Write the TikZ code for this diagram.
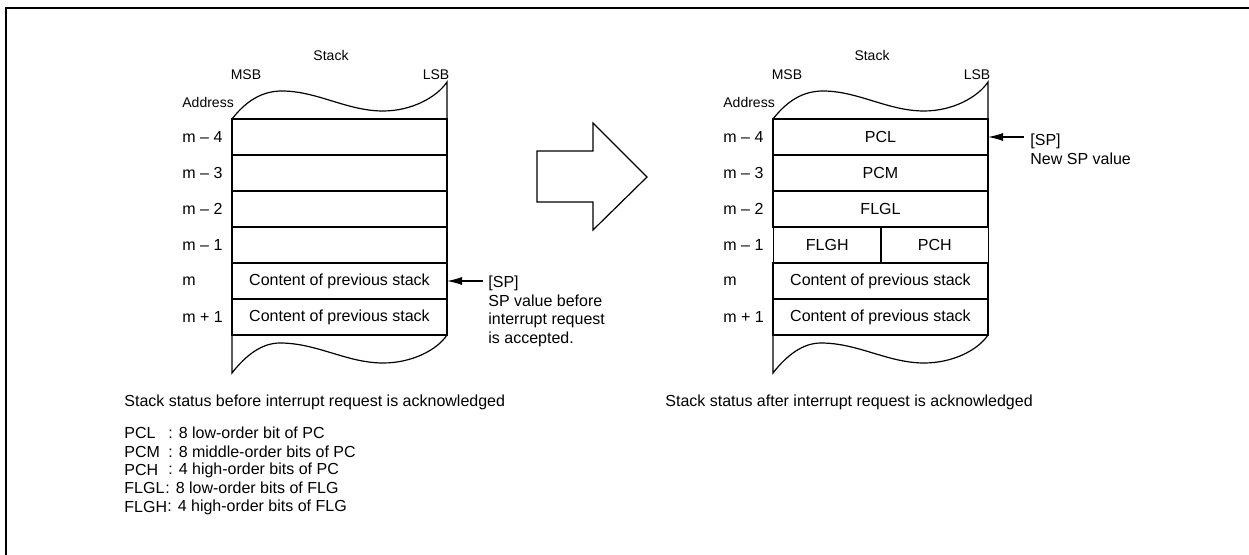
\documentclass[tikz,border=0pt]{standalone}
\usepackage{fontspec}
\setmainfont{Liberation Sans}
\usetikzlibrary{arrows.meta}
\begin{document}
\begin{tikzpicture}[
        x=0.5pt, y=-0.5pt,
        every node/.style={font=\fontsize{8}{9.25}\selectfont, inner sep=0pt},
        small/.style={font=\fontsize{7}{8.4}\selectfont},
        cell/.style={draw, line width=0.6pt, outer sep=0pt, minimum width=107.5pt, minimum height=18pt},
        halfcell/.style={cell, minimum width=53.75pt},
        wave/.style={line width=0.6pt},
        sparrow/.style={line width=0.6pt, -{Latex[length=7.5pt,width=4pt]}}
    ]

    \useasboundingbox (0,0) rectangle (1249,555);
    \draw[line width=1pt] (6,555) -- (6,8) -- (1249,8);

    \node[cell] (am4) at (339.5,137) {};
    \node[cell] (am3) at (339.5,173) {};
    \node[cell] (am2) at (339.5,209) {};
    \node[cell] (am1) at (339.5,245) {};
    \node[cell] (am) at (339.5,281) {Content of previous stack};
    \node[cell] (amp1) at (339.5,317) {Content of previous stack};

    \node[cell] (bm4) at (880.5,137) {PCL};
    \node[cell] (bm3) at (880.5,173) {PCM};
    \node[cell] (bm2) at (880.5,209) {FLGL};
    \node[halfcell] (bm1a) at (827.25,245) {FLGH};
    \node[halfcell] (bm1b) at (934.75,245) {PCH};
    \node[cell] (bm) at (880.5,281) {Content of previous stack};
    \node[cell] (bmp1) at (880.5,317) {Content of previous stack};

    \foreach \s/\e/\dx [count=\i] in {am4/amp1/0, bm4/bmp1/541} {
        \draw[wave, shift={(\s.north west)}] (0,0) .. controls (14,-18) and (30,-28) .. (50,-28)
            .. controls (85,-28) and (115,-8) .. (151,-8)
            .. controls (180,-8) and (205,-22) .. (215,-37) -- (215,0);
        \draw[wave, shift={(\e.south west)}] (0,0) -- (0,38) .. controls (14,20) and (30,8) .. (48,8)
            .. controls (85,8) and (115,28) .. (151,28)
            .. controls (180,28) and (205,15) .. (215,0);
        \node[small] (stack\i) at (331+\dx,56) {Stack};
        \node[small] (msb\i) at (246+\dx,75) {MSB};
        \node[small] (lsb\i) at (436+\dx,75) {LSB};
        \node[small, anchor=west] (addr\i) at (182+\dx,103) {Address};
        \node[anchor=west] (lm4\i) at (182+\dx,137) {m -- 4};
        \node[anchor=west] (lm3\i) at (182+\dx,173) {m -- 3};
        \node[anchor=west] (lm2\i) at (182+\dx,209) {m -- 2};
        \node[anchor=west] (lm1\i) at (182+\dx,245) {m -- 1};
        \node[anchor=west] (lm\i) at (182+\dx,281) {m};
        \node[anchor=west] (lmp1\i) at (182+\dx,317) {m + 1};
    }

    \coordinate (spa) at (483,281);
    \draw[sparrow] (spa) -- (am.east);
    \node[anchor=north west, align=left] (spatext) at (488,276) {[SP]\\SP value before\\interrupt request\\is accepted.};

    \coordinate (spb) at (1024,137);
    \draw[sparrow] (spb) -- (bm4.east);
    \node[anchor=north west, align=left] (spbtext) at (1030,134) {[SP]\\New SP value};

    \draw[line width=0.6pt] (537,151) -- (593,151) -- (593,123) -- (647,177) -- (593,230) -- (593,202) -- (537,202) -- cycle;

    \node[anchor=west] (acap) at (124,402) {Stack status before interrupt request is acknowledged};
    \node[anchor=west] (bcap) at (665,402) {Stack status after interrupt request is acknowledged};

    \foreach \n/\t/\y/\c in {PCL/8 low-order bit of PC/433/168, PCM/8 middle-order bits of PC/452/168,
            PCH/4 high-order bits of PC/470/168, FLGL/8 low-order bits of FLG/488/165, FLGH/4 high-order bits of FLG/507/167} {
        \node[anchor=west] (key\n) at (124,\y) {\n};
        \node[anchor=west] (def\n) at (\c,\y) {: \t};
    }

\end{tikzpicture}
\end{document}
